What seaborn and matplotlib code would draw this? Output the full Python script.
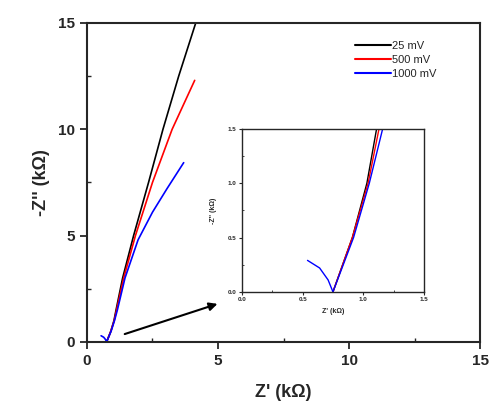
import numpy as np
import pandas as pd
import seaborn as sns
import matplotlib.pyplot as plt
from matplotlib.ticker import MultipleLocator

# Nyquist data (kOhm)
x_25 = [0.75, 0.91, 1.03, 1.11, 1.36, 1.78, 2.35, 2.90, 3.50, 4.15]
y_25 = [0.0, 0.5, 1.0, 1.5, 3.0, 5.0, 7.5, 10.0, 12.5, 15.0]
x_500 = [0.75, 0.91, 1.04, 1.13, 1.40, 1.85, 2.50, 3.25, 4.11]
y_500 = [0.0, 0.5, 1.0, 1.5, 3.0, 5.0, 7.5, 10.0, 12.3]
x_1000 = [0.54, 0.64, 0.71, 0.75, 0.92, 1.05, 1.16, 1.45, 1.95, 2.50, 3.05, 3.69]
y_1000 = [0.29, 0.22, 0.11, 0.0, 0.5, 1.0, 1.5, 3.0, 4.8, 6.1, 7.2, 8.43]

labels = ['25 mV', '500 mV', '1000 mV']
colors = ['black', 'red', 'blue']

frames = []
for lab, xs, ys in zip(labels, [x_25, x_500, x_1000], [y_25, y_500, y_1000]):
    frames.append(pd.DataFrame({'zre': xs, 'zim': ys, 'bias': lab}))
df = pd.concat(frames, ignore_index=True)

sns.set_style('ticks')
plt.rcParams['font.family'] = ['Liberation Sans', 'DejaVu Sans']

fig = plt.figure(figsize=(4.94, 4.17), dpi=100)
ax = fig.add_axes([0.176, 0.180, 0.796, 0.765])

sns.lineplot(data=df, x='zre', y='zim', hue='bias', palette=colors, sort=False,
             estimator=None, lw=1.2, ax=ax)
ax.set_xlim(0, 15)
ax.set_ylim(0, 15)
ax.xaxis.set_major_locator(MultipleLocator(5))
ax.yaxis.set_major_locator(MultipleLocator(5))
ax.xaxis.set_minor_locator(MultipleLocator(2.5))
ax.yaxis.set_minor_locator(MultipleLocator(2.5))
ax.tick_params(which='major', direction='out', length=5, width=1.3, labelsize=11)
ax.tick_params(which='minor', direction='in', length=3, width=1.0)
for lbl in ax.get_xticklabels() + ax.get_yticklabels():
    lbl.set_fontweight('bold')
for s in ax.spines.values():
    s.set_linewidth(1.5)
    s.set_visible(True)
ax.set_xlabel("Z' (k\u03a9)", fontsize=13, fontweight='bold', labelpad=12)
ax.set_ylabel("-Z'' (k\u03a9)", fontsize=13, fontweight='bold', labelpad=6)

leg = ax.legend(loc='upper right', bbox_to_anchor=(0.915, 0.975), frameon=False,
                fontsize=8, handlelength=3.3, handletextpad=0.1, labelspacing=0.35)
for h in leg.get_lines():
    h.set_linewidth(1.5)

ax.annotate('', xy=(5.08, 1.83), xytext=(1.34, 0.33),
            arrowprops=dict(arrowstyle='-|>', color='black', lw=1.5, mutation_scale=12))

# inset zoom near the origin
axi = fig.add_axes([0.490, 0.300, 0.368, 0.391])
sns.lineplot(data=df, x='zre', y='zim', hue='bias', palette=colors, sort=False,
             estimator=None, lw=1.0, ax=axi, legend=False)
axi.set_xlim(0, 1.5)
axi.set_ylim(0, 1.5)
axi.xaxis.set_major_locator(MultipleLocator(0.5))
axi.yaxis.set_major_locator(MultipleLocator(0.5))
axi.xaxis.set_minor_locator(MultipleLocator(0.25))
axi.yaxis.set_minor_locator(MultipleLocator(0.25))
axi.xaxis.set_major_formatter('{x:.1f}')
axi.yaxis.set_major_formatter('{x:.1f}')
axi.tick_params(which='major', direction='out', length=2.5, width=0.8, labelsize=4.5, pad=1.5)
axi.tick_params(which='minor', direction='in', length=1.5, width=0.6)
for lbl in axi.get_xticklabels() + axi.get_yticklabels():
    lbl.set_fontweight('bold')
for s in axi.spines.values():
    s.set_linewidth(1.0)
    s.set_visible(True)
axi.set_xlabel("Z' (k\u03a9)", fontsize=5, fontweight='bold', labelpad=4)
axi.set_ylabel("-Z'' (k\u03a9)", fontsize=5, fontweight='bold', labelpad=8)

fig.savefig('out.png', dpi=100)
